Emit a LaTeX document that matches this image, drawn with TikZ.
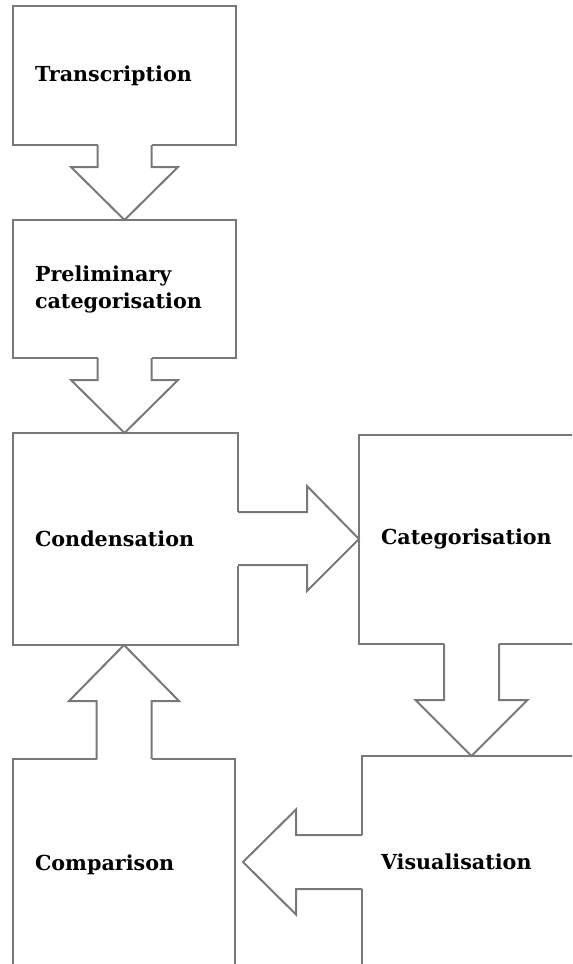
\documentclass[tikz,border=0pt]{standalone}
\usepackage{fontspec}
\setmainfont{DejaVu Serif}
\usetikzlibrary{calc}
\definecolor{edgegray}{RGB}{120,120,120}
\tikzset{
	stage/.style={draw=edgegray, line width=1.5pt, align=left, outer sep=0pt, inner xsep=16.5pt,
		font=\bfseries\fontsize{15.5}{20.25}\selectfont},
	edge/.style={draw=edgegray, line width=1.5pt, line join=miter},
}

\begin{document}
\begin{tikzpicture}[x=0.75pt,y=0.75pt,yscale=-1,xscale=1]
		\useasboundingbox (0,0) rectangle (572,964);
		\clip (0,0) rectangle (572,964);

		\node[stage, text width=134.25pt, minimum height=104.25pt] (trans) at (124.5,75.5) {Transcription};
		\node[stage, text width=134.25pt, minimum height=103.5pt] (prelim) at (124.5,289) {Preliminary\\categorisation};
		\node[stage, text width=135.75pt, minimum height=159pt] (cond) at (125.5,539) {Condensation};
		\node[stage, text width=135.75pt, minimum height=156.75pt] (categ) at (471.5,539) {Categorisation};
		\node[stage, text width=133.5pt, minimum height=159pt] (compar) at (124,865) {Comparison};
		\node[stage, text width=138pt, inner xsep=14.25pt, minimum height=159pt] (visual) at (473,862) {Visualisation};

		% block arrows, box edge left open under the stem
		\fill[white] ($(trans.south)+(-27,-2)$) rectangle ($(trans.south)+(27,2)$);
		\draw[edge] ($(trans.south)+(-27,0)$) -- ++(0,22) -- ++(-26.5,0) -- (prelim.north) -- ++(53.5,-53) -- ++(-26.5,0) -- ++(0,-22);

		\fill[white] ($(prelim.south)+(-27,-2)$) rectangle ($(prelim.south)+(27,2)$);
		\draw[edge] ($(prelim.south)+(-27,0)$) -- ++(0,22) -- ++(-26.5,0) -- (prelim.south |- cond.north) -- ++(53.5,-53) -- ++(-26.5,0) -- ++(0,-22);

		\fill[white] ($(cond.east)+(-2,-27)$) rectangle ($(cond.east)+(2,27)$);
		\draw[edge] ($(cond.east)+(0,-27)$) -- ++(69,0) -- ++(0,-26) -- (categ.west) -- ++(-52,52) -- ++(0,-26) -- ++(-69,0);

		\fill[white] ($(categ.south)+(-27.5,-2)$) rectangle ($(categ.south)+(27.5,2)$);
		\draw[edge] ($(categ.south)+(-27.5,0)$) -- ++(0,56.5) -- ++(-28.5,0) -- (categ.south |- visual.north) -- ++(56,-56) -- ++(-28.5,0) -- ++(0,-56.5);

		\fill[white] ($(visual.west)+(-2,-27)$) rectangle ($(visual.west)+(2,27)$);
		\draw[edge] ($(visual.west)+(0,-27)$) -- ++(-66,0) -- ++(0,-25.5) -- ($(visual.west)+(-119,0)$) -- ++(53,52.5) -- ++(0,-25.5) -- ++(66,0);

		\fill[white] ($(compar.north)+(-27.5,-2)$) rectangle ($(compar.north)+(27.5,2)$);
		\draw[edge] ($(compar.north)+(-27.5,0)$) -- ++(0,-58) -- ++(-27.5,0) -- (compar.north |- cond.south) -- ++(55,56) -- ++(-27.5,0) -- ++(0,58);
	\end{tikzpicture}
\end{document}
